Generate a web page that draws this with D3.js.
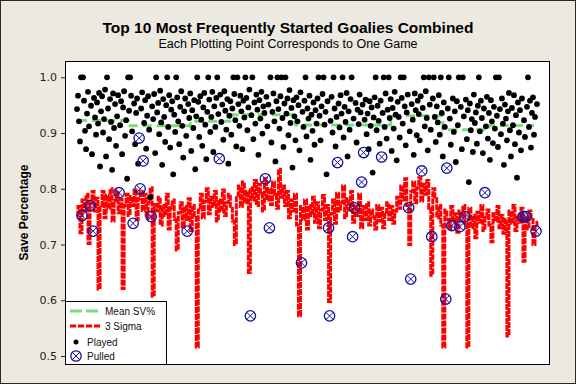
<!DOCTYPE html>
<html>
<head>
<meta charset="utf-8">
<script src="https://cdn.jsdelivr.net/npm/d3@7"></script>
<style>
body { margin: 0; background: #ECE9E0; }
</style>
</head>
<body>
<svg id="chart" width="576" height="384"></svg>
<script>
// save % per game, thousandths (1000 = shutout), games 0..459
const savePct = `
943 967 921 885 1000 752 1000 958 904 871 935 974 912 770 949 862 724 963 928 897
955 917 972 840 939 966 901 925 978 858 1000 944 889 961 920 834 971 909 952 877
930 968 793 914 957 862 946 975 895 923 818 1000 940 1000 967 903 738 953 880 936
962 845 891 800 944 973 850 918 959 872 931 966 906 785 750 948 925 970 864 1000
937 954 898 976 919 843 961 929 884 950 1000 911 968 874 942 957 826 933 902 1000
964 921 880 947 975 913 856 939 962 895 724 952 927 971 868 941 909 959 835 930
1000 956 893 966 924 877 946 972 915 853 938 1000 960 902 929 974 866 948 911 963
1000 934 854 969 920 951 888 975 940 906 961 845 931 957 897 944 1000 970 923 876
1000 952 913 967 939 871 958 928 1000 963 905 946 978 572 932 1000 889 955 917 969
942 861 959 926 974 899 948 936 818 965 912 951 730 1000 883 938 971 921 849 957
1000 943 908 966 1000 927 875 953 1000 935 962 896 977 918 945 838 959 930 887 964
921 950 869 973 667 938 911 958 1000 894 944 926 967 852 933 904 955 879 941 917
962 1000 931 887 948 970 1000 915 938 826 957 730 572 922 965 901 1000 944 876 929
847 953 910 968 935 1000 892 947 920 972 858 939 906 961 1000 714 926 766 954 883
942 916 969 937 812 951 865 924 960 898 935 871 957 913 946 829 928 964 1000 905
949 922 881 958 857 936 1000 911 971 890 942 1000 927 961 868 945 908 974 933 851
956 929 892 1000 963 917 1000 948 878 937 969 766 903 638 952 924 861 971 941 896
958 934 887 966 832 945 1000 912 975 927 869 1000 951 906 714 962 1000 929 884 948
919 968 897 1000 936 858 955 911 602 837 944 1000 926 879 734 962 902 939 848 957
914 1000 732 947 871 1000 930 750 960 889 941 812 953 905 925 866 969 918 937 881
949 1000 903 958 927 864 944 793 912 965 890 936 852 959 921 882 947 908 1000 931
875 1000 943 898 962 917 843 951 926 887 939 972 905 858 945 914 968 880 932 820
955 901 941 869 962 750 923 893 750 947 1000 911 958 874 936 964 897 929 724 952
`.trim().split(/\s+/).map(d => +d / 1000);

// games where the starter was pulled
const pulledGames = [5, 13, 16, 42, 56, 62, 63, 66, 74, 110, 142, 173, 188, 192, 224, 251, 252, 260, 275, 277,
    284, 286, 304, 331, 333, 344, 354, 368, 369, 374, 382, 387, 407, 445, 448, 458];

// 3 sigma lower limit, one value every second game
const sigmaLimit = `
752 768 721 780 760 790 702 775 795 760 783 620 770 795 748 788 765 800 742 779
796 757 781 621 770 790 752 786 770 798 745 782 795 761 790 748 776 802 607 772
760 785 735 770 752 790 728 766 780 745 690 757 775 732 768 745 782 725 770 752
516 762 790 748 778 800 755 785 768 795 742 780 760 798 752 775 790 765 742 700
788 805 768 812 775 795 650 802 780 815 770 808 792 760 818 780 800 772 812 790
765 835 785 805 770 795 748 780 760 790 735 572 768 745 780 728 770 752 785 740
775 730 762 788 745 770 598 755 780 738 792 760 775 805 748 782 762 795 740 770
752 790 730 768 745 775 735 762 750 728 770 742 765 730 758 775 745 768 738 760
785 765 805 780 818 770 700 795 812 775 802 820 778 808 790 815 765 645 800 782
748 770 735 516 762 745 728 768 740 755 722 760 748 770 738 516 765 730 752 712
758 740 770 725 748 762 735 705 755 742 768 730 752 720 745 536 760 738 770 725
752 740 765 670 748 728 760 745 700 735 740
`.trim().split(/\s+/).map(d => +d / 1000);

// mean SV% per goalie block
const goalieFirstGame = [1, 51, 113, 155, 218, 313, 365, 411];
const lastGame = 456;
const goalieMean = [0.9225, 0.913, 0.921, 0.933, 0.9145, 0.931, 0.906, 0.9136];

const yTicks = [0.5, 0.6, 0.7, 0.8, 0.9, 1.0];

const svg = d3.select("#chart");
const W = 576, H = 384;
const plot = {left: 65, top: 61, right: 549, bottom: 364};

const x = d3.scaleLinear().domain([0, 460]).range([77, 538]);
const y = d3.scaleLinear().domain([0.5, 1.0]).range([356, 77.3]);

svg.append("rect")
    .attr("x", 0.5).attr("y", 0.5)
    .attr("width", W - 1).attr("height", H - 1)
    .attr("fill", "#ECE9E0")
    .attr("stroke", "#2a2a2a");

svg.append("rect")
    .attr("x", plot.left + 0.5).attr("y", plot.top + 0.5)
    .attr("width", plot.right - plot.left).attr("height", plot.bottom - plot.top)
    .attr("fill", "white")
    .attr("stroke", "black");

svg.append("clipPath").attr("id", "clip")
    .append("rect")
    .attr("x", plot.left + 1).attr("y", plot.top + 1)
    .attr("width", plot.right - plot.left - 1).attr("height", plot.bottom - plot.top - 1);

// titles
svg.append("text")
    .attr("x", W / 2).attr("y", 33)
    .attr("text-anchor", "middle")
    .attr("font-family", "Liberation Sans, Arial, sans-serif")
    .attr("font-weight", "bold")
    .attr("font-size", 15.5)
    .text("Top 10 Most Frequently Started Goalies Combined");

svg.append("text")
    .attr("x", W / 2).attr("y", 48)
    .attr("text-anchor", "middle")
    .attr("font-family", "Liberation Sans, Arial, sans-serif")
    .attr("font-size", 12.5)
    .text("Each Plotting Point Corresponds to One Game");

svg.append("text")
    .attr("transform", `translate(28,${(plot.top + plot.bottom) / 2}) rotate(-90)`)
    .attr("text-anchor", "middle")
    .attr("font-family", "Liberation Sans, Arial, sans-serif")
    .attr("font-weight", "bold")
    .attr("font-size", 12)
    .text("Save Percentage");

// y axis
const yAxis = svg.append("g")
    .attr("transform", `translate(${plot.left},0)`)
    .call(d3.axisLeft(y).tickValues(yTicks).tickFormat(d3.format(".1f")).tickSize(4).tickPadding(4));
yAxis.select(".domain").remove();
yAxis.selectAll("line").attr("stroke", "#222");
yAxis.selectAll("text")
    .attr("font-family", "DejaVu Sans, sans-serif")
    .attr("font-size", 11)
    .attr("fill", "#222");

const g = svg.append("g").attr("clip-path", "url(#clip)");

// 3 sigma line
const sigmaLine = d3.line()
    .x((d, i) => x(i * 2))
    .y(d => y(d))
    .curve(d3.curveStep);

g.append("path")
    .datum(sigmaLimit)
    .attr("d", sigmaLine)
    .attr("fill", "none")
    .attr("stroke", "#FF0000")
    .attr("stroke-width", 3)
    .attr("stroke-dasharray", "6,1");

// mean line
const meanPts = goalieFirstGame.map((s, i) => [s, goalieMean[i]]);
meanPts.push([lastGame, goalieMean[goalieMean.length - 1]]);
g.append("path")
    .datum(meanPts)
    .attr("d", d3.line().x(d => x(d[0])).y(d => y(d[1])).curve(d3.curveStepAfter))
    .attr("fill", "none")
    .attr("stroke", "#7CDC7C")
    .attr("stroke-width", 3)
    .attr("stroke-dasharray", "9,5");

// played games
const pulledSet = new Set(pulledGames);
g.append("g")
    .selectAll("circle")
    .data(savePct.map((v, i) => ({game: i, v})).filter(d => !pulledSet.has(d.game)))
    .join("circle")
    .attr("cx", d => x(d.game))
    .attr("cy", d => y(d.v))
    .attr("r", 2.9)
    .attr("fill", "black");

// pulled games
function pulledMark(sel) {
    sel.append("circle")
        .attr("r", 5.2)
        .attr("fill", "none")
        .attr("stroke", "#1010A0")
        .attr("stroke-width", 1.3);
    sel.append("path")
        .attr("d", "M-3.4,-3.4L3.4,3.4M-3.4,3.4L3.4,-3.4")
        .attr("stroke", "#1010A0")
        .attr("stroke-width", 1);
}

g.append("g")
    .selectAll("g")
    .data(pulledGames)
    .join("g")
    .attr("transform", d => `translate(${x(d)},${y(savePct[d])})`)
    .call(pulledMark);

// legend
const lg = svg.append("g");
lg.append("rect")
    .attr("x", plot.left + 0.5).attr("y", 301.5)
    .attr("width", 101).attr("height", plot.bottom - 301)
    .attr("fill", "white")
    .attr("stroke", "black");

const legendFont = sel => sel
    .attr("font-family", "Liberation Sans, Arial, sans-serif")
    .attr("font-size", 10)
    .attr("fill", "#111");

lg.append("line")
    .attr("x1", 70).attr("x2", 98).attr("y1", 311).attr("y2", 311)
    .attr("stroke", "#7CDC7C").attr("stroke-width", 3).attr("stroke-dasharray", "12,4");
lg.append("text").attr("x", 105).attr("y", 315).text("Mean SV%").call(legendFont);

lg.append("line")
    .attr("x1", 70).attr("x2", 100).attr("y1", 326).attr("y2", 326)
    .attr("stroke", "#FF0000").attr("stroke-width", 3).attr("stroke-dasharray", "6,2");
lg.append("text").attr("x", 105).attr("y", 330).text("3 Sigma").call(legendFont);

lg.append("circle").attr("cx", 76).attr("cy", 342).attr("r", 2.5).attr("fill", "black");
lg.append("text").attr("x", 87).attr("y", 346).text("Played").call(legendFont);

lg.append("g").attr("transform", "translate(76,356)").call(pulledMark);
lg.append("text").attr("x", 87).attr("y", 360).text("Pulled").call(legendFont);
</script>
</body>
</html>
